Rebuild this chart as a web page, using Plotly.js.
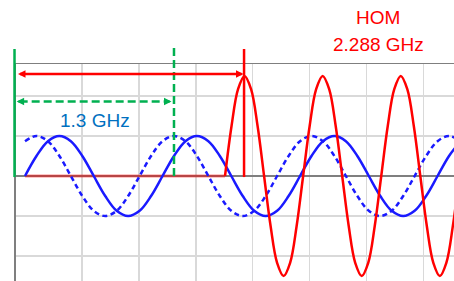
<!DOCTYPE html>
<html>
<head>
<meta charset="utf-8">
<script src="https://cdn.plot.ly/plotly-3.0.1.min.js"></script>
<style>html,body{margin:0;padding:0;background:#fff;}#chart{width:454px;height:281px;}</style>
</head>
<body>
<div id="chart"></div>
<script>
// x axis: phase of the 1.3 GHz wave, in degrees
const blueStart = 0, blueStep = 30;
const blueSolid = [0,0.5,0.87,1,0.87,0.5,0,-0.5,-0.87,-1,-0.87,-0.5,
                   0,0.5,0.87,1,0.87,0.5,0,-0.5,-0.87,-1,-0.87,-0.5,
                   0,0.5,0.87,1,0.87,0.5,0,-0.5,-0.87,-1,-0.87,-0.5,
                   0,0.5,0.87];
const blueDashed = [0.87,1,0.87,0.5,0,-0.5,-0.87,-1,-0.87,-0.5,0,0.5,
                    0.87,1,0.87,0.5,0,-0.5,-0.87,-1,-0.87,-0.5,0,0.5,
                    0.87,1,0.87,0.5,0,-0.5,-0.87,-1,-0.87,-0.5,0,0.5,
                    0.87,1,0.87];
// HOM 2.288 GHz wave
const redStart = 523.6, redStep = 17.04;
const redWave = [0,1.25,2.17,2.5,2.17,1.25,0,-1.25,-2.17,-2.5,-2.17,-1.25,
                 0,1.25,2.17,2.5,2.17,1.25,0,-1.25,-2.17,-2.5,-2.17,-1.25,
                 0,1.25,2.17,2.5,2.17,1.25,0,-1.25,-2.17,-2.5,-2.17,-1.25,
                 0];
const redBaseX = [0, 523.6];
const redBaseY = [0, 0];
const gridX = [149, 298, 447, 596, 745, 894, 1043];
const labelBlue = '1.3 GHz';
const labelHom1 = 'HOM';
const labelHom2 = '2.288 GHz';
// marker positions (phase degrees)
const redMarkX = 573.4;
const greenMarkX = 390;
const redArrow = {from: -22.3, to: 572, y: 2.55};
const greenArrow = {from: -22, to: 383.5, y: 1.86};

const RED = '#ff0000', BLUE = '#1a1aff', GREEN = '#00b050';
const FONT = 'Liberation Sans, Arial, sans-serif';

const traces = [
  {x: redBaseX, y: redBaseY, mode: 'lines', line: {color: 'rgba(255,0,0,0.45)', width: 3}, hoverinfo: 'skip'},
  {x0: blueStart, dx: blueStep, y: blueDashed, mode: 'lines',
   line: {color: BLUE, width: 2.5, dash: '5px,3.5px', shape: 'spline'}},
  {x0: blueStart, dx: blueStep, y: blueSolid, mode: 'lines',
   line: {color: BLUE, width: 2.5, shape: 'spline'}},
  {x0: redStart, dx: redStep, y: redWave, mode: 'lines',
   line: {color: RED, width: 2.5, shape: 'spline'}}
];

const layout = {
  width: 454, height: 281,
  margin: {l: 16, r: 0, t: 64, b: 0, pad: 0},
  paper_bgcolor: '#ffffff', plot_bgcolor: '#ffffff',
  showlegend: false,
  xaxis: {range: [-23.6, 1123], side: 'top', showline: true, linecolor: '#7f7f7f', linewidth: 1.5,
          tickmode: 'array', tickvals: gridX, showticklabels: false, ticks: '',
          showgrid: true, gridcolor: '#d9d9d9', gridwidth: 1.5, zeroline: false, fixedrange: true},
  yaxis: {range: [-2.625, 2.8], dtick: 1, tick0: 0, showline: true, linecolor: '#7f7f7f', linewidth: 2,
          showticklabels: false, ticks: '', showgrid: true, gridcolor: '#d9d9d9', gridwidth: 1.5,
          zeroline: true, zerolinecolor: '#7f7f7f', zerolinewidth: 1.5, fixedrange: true},
  shapes: [
    {type: 'line', xref: 'paper', yref: 'paper', x0: -0.0034, x1: -0.0034, y0: 0.479, y1: 1.069,
     line: {color: GREEN, width: 2.5}},
    {type: 'line', xref: 'x', yref: 'paper', x0: greenMarkX, x1: greenMarkX, y0: 0.484, y1: 1.078,
     line: {color: GREEN, width: 2.5, dash: '8px,4px'}},
    {type: 'line', xref: 'x', yref: 'paper', x0: redMarkX, x1: redMarkX, y0: 0.479, y1: 1.069,
     line: {color: RED, width: 2.5}},
    {type: 'line', xref: 'x', yref: 'y', x0: greenArrow.from + 8, x1: greenArrow.to - 8, y0: greenArrow.y, y1: greenArrow.y,
     line: {color: GREEN, width: 2.5, dash: '8px,4px'}}
  ],
  annotations: [
    {xref: 'x', yref: 'y', axref: 'x', ayref: 'y', x: redArrow.to, y: redArrow.y, ax: redArrow.from, ay: redArrow.y,
     text: ' ', font: {size: 1}, showarrow: true, arrowside: 'end+start', arrowhead: 2, startarrowhead: 2,
     arrowsize: 0.6, startarrowsize: 0.6, arrowwidth: 2.5, arrowcolor: RED, standoff: 0, startstandoff: 0},
    {xref: 'x', yref: 'y', axref: 'x', ayref: 'y', x: greenArrow.from, y: greenArrow.y, ax: greenArrow.from + 21, ay: greenArrow.y,
     text: ' ', font: {size: 1}, showarrow: true, arrowhead: 2, arrowsize: 0.6, arrowwidth: 2.5, arrowcolor: GREEN, standoff: 0},
    {xref: 'x', yref: 'y', axref: 'x', ayref: 'y', x: greenArrow.to, y: greenArrow.y, ax: greenArrow.to - 21, ay: greenArrow.y,
     text: ' ', font: {size: 1}, showarrow: true, arrowhead: 2, arrowsize: 0.6, arrowwidth: 2.5, arrowcolor: GREEN, standoff: 0},
    {xref: 'x', yref: 'y', x: 183, y: 1.4, text: labelBlue, showarrow: false, xanchor: 'center', yanchor: 'middle',
     font: {family: FONT, size: 19, color: '#0070c0'}},
    {xref: 'x', yref: 'paper', x: 924, y: 1.212, text: labelHom1, showarrow: false, xanchor: 'center', yanchor: 'middle',
     font: {family: FONT, size: 19, color: RED}},
    {xref: 'x', yref: 'paper', x: 925, y: 1.09, text: labelHom2, showarrow: false, xanchor: 'center', yanchor: 'middle',
     font: {family: FONT, size: 19, color: RED}}
  ]
};

Plotly.newPlot('chart', traces, layout, {displayModeBar: false, staticPlot: true});
</script>
</body>
</html>
